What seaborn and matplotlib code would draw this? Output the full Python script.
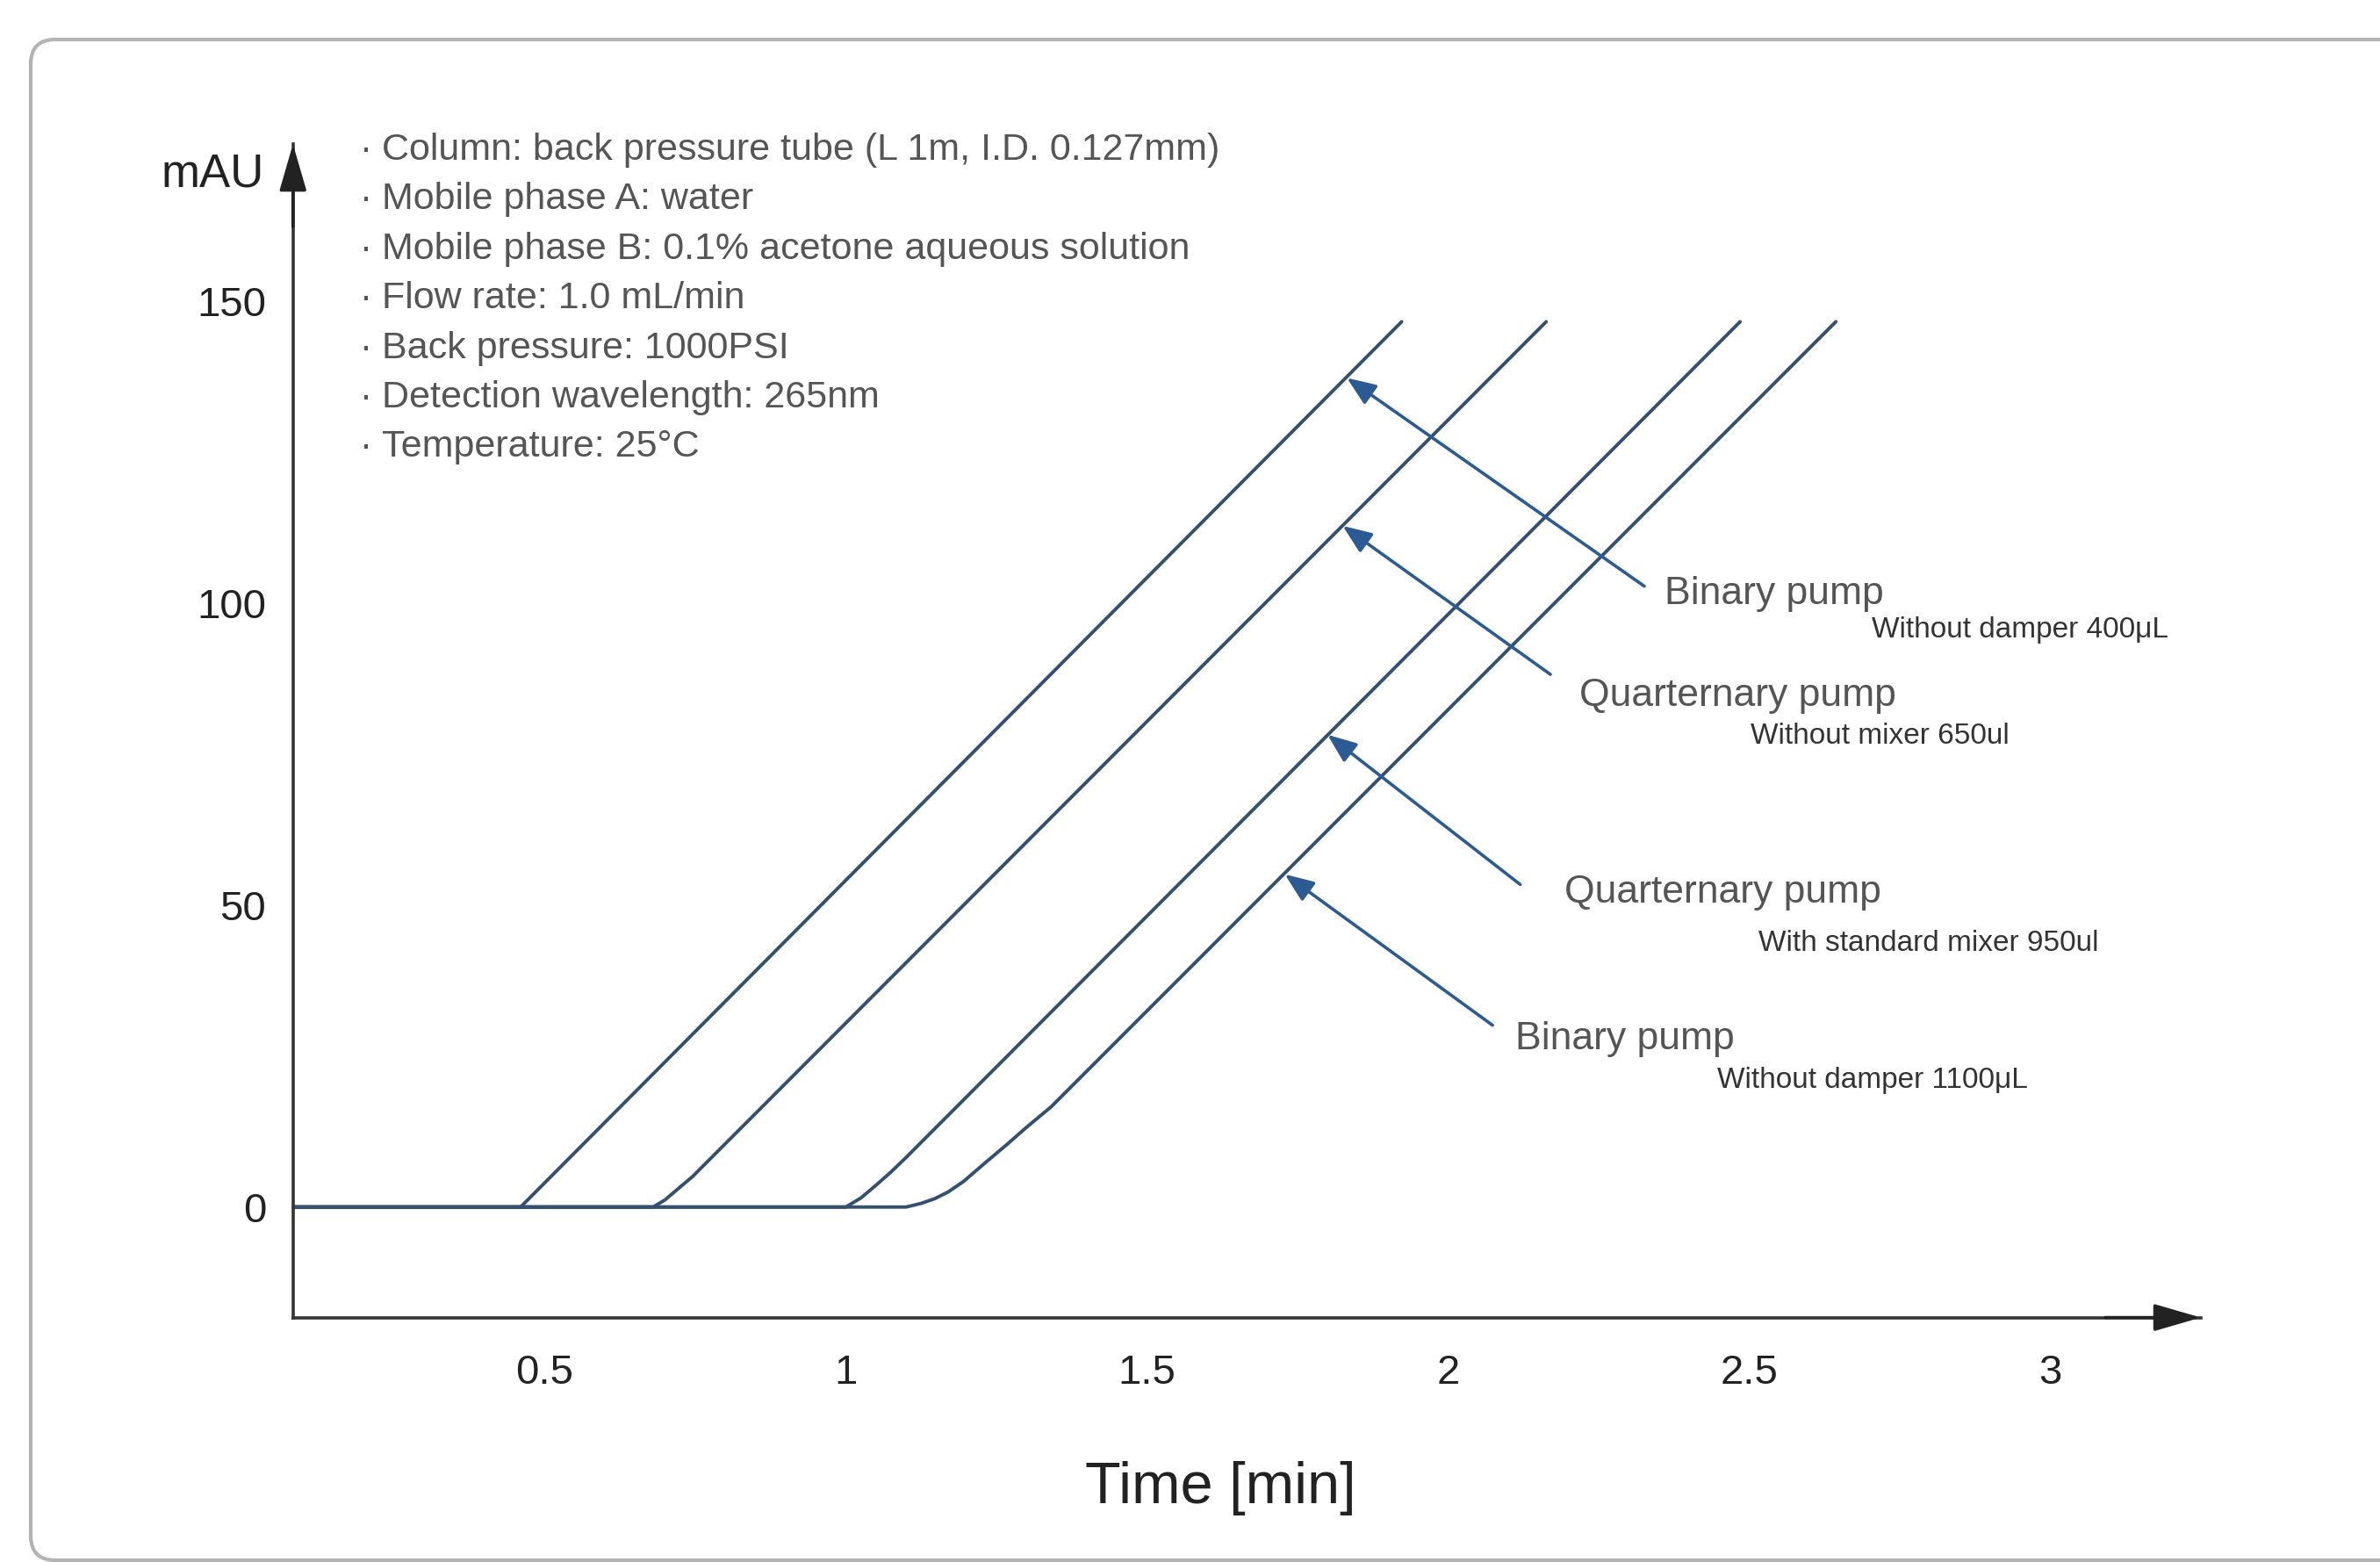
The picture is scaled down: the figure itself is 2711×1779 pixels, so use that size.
import numpy as np
import pandas as pd
import matplotlib
matplotlib.use('Agg')
import matplotlib.pyplot as plt
from matplotlib.patches import FancyBboxPatch
import seaborn as sns

sns.set_style('white')
plt.rcParams['font.family'] = ['Liberation Sans', 'DejaVu Sans']

# curves (time in min, signal in mAU)
pump_names = ['Binary pump 400uL', 'Quarternary pump 650ul',
              'Quarternary pump 950ul', 'Binary pump 1100uL']
pump_times = [
    [0.08, 0.46, 1.923],
    [0.08, 0.68, 0.70, 0.72, 0.745, 2.163],
    [0.08, 1.00, 1.025, 1.05, 1.075, 1.10, 2.485],
    [0.08, 1.10, 1.125, 1.148, 1.17, 1.195, 1.23, 1.268, 1.30, 1.341, 2.644],
]
pump_mau = [
    [0, 0, 146.6],
    [0, 0, 1.2, 2.9, 5.0, 146.6],
    [0, 0, 1.5, 3.6, 5.8, 8.2, 146.6],
    [0, 0, 0.6, 1.4, 2.5, 4.2, 7.2, 10.4, 13.2, 16.6, 146.6],
]

# annotation labels: main text, sub text, arrow head point on curve
label_main = ['Binary pump', 'Quarternary pump', 'Quarternary pump', 'Binary pump']
label_sub = ['Without damper 400μL', 'Without mixer 650ul',
             'With standard mixer 950ul', 'Without damper 1100μL']
head_xy = [(1.832, 137.3), (1.825, 112.8), (1.800, 78.2), (1.729, 55.1)]
tail_xy = [(2.326, 102.8), (2.170, 88.2), (2.120, 53.4), (2.074, 30.1)]
main_xy = [(2.360, 101.5), (2.218, 84.7), (2.193, 52.1), (2.112, 27.8)]
sub_xy = [(2.704, 95.5), (2.503, 77.9), (2.515, 43.6), (2.447, 21.0)]

conditions = ['Column: back pressure tube (L 1m, I.D. 0.127mm)',
              'Mobile phase A: water',
              'Mobile phase B: 0.1% acetone aqueous solution',
              'Flow rate: 1.0 mL/min',
              'Back pressure: 1000PSI',
              'Detection wavelength: 265nm',
              'Temperature: 25°C']

x_ticks = [0.5, 1, 1.5, 2, 2.5, 3]
x_ticklabels = ['0.5', '1', '1.5', '2', '2.5', '3']
y_ticks = [0, 50, 100, 150]

rows = []
for name, ts, ys in zip(pump_names, pump_times, pump_mau):
    for t, y in zip(ts, ys):
        rows.append({'pump': name, 'time': t, 'mAU': y})
df = pd.DataFrame(rows)

line_col = '#34506f'
arrow_col = '#2c5a92'
txt_col = '#555555'

fig = plt.figure(figsize=(13.555, 8.895), dpi=200)
ax = fig.add_axes([0.1231, 0.1565, 0.8016, 0.7512])

sns.lineplot(data=df, x='time', y='mAU', units='pump', estimator=None,
             sort=False, color=line_col, lw=1.4, ax=ax)

ax.set_xlim(0.082, 3.25)
ax.set_ylim(-18.3, 176)
ax.set_xticks(x_ticks)
ax.set_xticklabels(x_ticklabels)
ax.set_yticks(y_ticks)
ax.set_xlabel('')
ax.set_ylabel('')
for s in ['top', 'right']:
    ax.spines[s].set_visible(False)
for s in ['left', 'bottom']:
    ax.spines[s].set_color('#333333')
    ax.spines[s].set_linewidth(1.3)
ax.tick_params(axis='x', direction='out', length=10, width=1, pad=5,
               labelsize=17, colors='#222222')
ax.tick_params(axis='y', direction='out', length=8, width=1, pad=3,
               labelsize=17, colors='#222222')

# axis arrowheads
head = '-|>,head_length=0.55,head_width=0.16'
ax.annotate('', xy=(1.0, 0), xytext=(0.95, 0), xycoords='axes fraction',
            arrowprops=dict(arrowstyle=head, color='#222222', lw=1.3,
                            shrinkA=0, shrinkB=0, mutation_scale=30),
            annotation_clip=False)
ax.annotate('', xy=(0, 1.0), xytext=(0, 0.93), xycoords='axes fraction',
            arrowprops=dict(arrowstyle=head, color='#222222', lw=1.3,
                            shrinkA=0, shrinkB=0, mutation_scale=30),
            annotation_clip=False)
ax.text(-0.015, 171, 'mAU', ha='right', va='center', fontsize=19,
        color='#222222', transform=ax.get_yaxis_transform())

# conditions block
for i, c in enumerate(conditions):
    y = 175 - i * 8.2
    ax.text(0.193, y, '·', ha='left', va='center', fontsize=15, color=txt_col)
    ax.text(0.230, y, c, ha='left', va='center', fontsize=15.5, color=txt_col)

# pump labels with arrows
for m, s, h, t, mp, sp in zip(label_main, label_sub, head_xy, tail_xy, main_xy, sub_xy):
    ax.annotate('', xy=h, xytext=t,
                arrowprops=dict(arrowstyle='-|>,head_length=0.5,head_width=0.2',
                                color=arrow_col, lw=1.3, shrinkA=0, shrinkB=0,
                                mutation_scale=20))
    ax.text(mp[0], mp[1], m, ha='left', va='center', fontsize=16, color=txt_col)
    ax.text(sp[0], sp[1], s, ha='left', va='center', fontsize=12, color='#333333')

fig.text(0.513, 0.047, 'Time [min]', ha='center', va='center', fontsize=24,
         color='#222222')

# rounded frame
frame = FancyBboxPatch((0.175, 0.01), 14.0, 8.66,
                       boxstyle='round,pad=0,rounding_size=0.14',
                       transform=fig.dpi_scale_trans, fill=False,
                       ec='#b3b3b3', lw=1.5, clip_on=False)
fig.patches.append(frame)

fig.savefig('out.png', dpi=200)
